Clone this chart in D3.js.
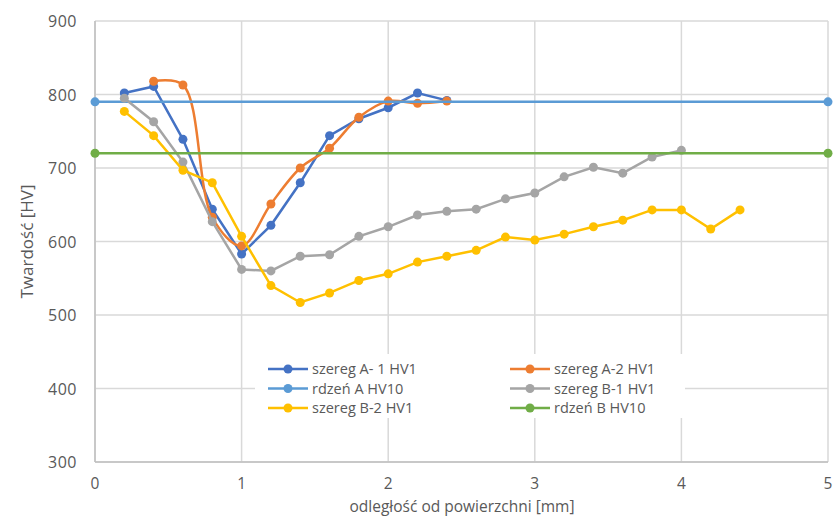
<!DOCTYPE html>
<html>
<head>
<meta charset="utf-8">
<script src="https://cdn.jsdelivr.net/npm/d3@7"></script>
<style>
  body { margin: 0; background: #fff; }
  svg text { font-family: "Open Sans", "Liberation Sans", sans-serif; }
</style>
</head>
<body>
<svg id="chart" width="838" height="517"></svg>
<script>
// values
const xA = [0.2, 0.4, 0.6, 0.8, 1.0, 1.2, 1.4, 1.6, 1.8, 2.0, 2.2, 2.4];
const szeregA1 = [802, 811, 739, 644, 583, 622, 680, 744, 767, 782, 802, 792];
const xA2 = [0.4, 0.6, 0.8, 1.0, 1.2, 1.4, 1.6, 1.8, 2.0, 2.2, 2.4];
const szeregA2 = [818, 813, 633, 594, 651, 700, 727, 769, 791, 788, 791];
const xB = [0.2, 0.4, 0.6, 0.8, 1.0, 1.2, 1.4, 1.6, 1.8, 2.0, 2.2, 2.4, 2.6, 2.8, 3.0, 3.2, 3.4, 3.6, 3.8, 4.0];
const szeregB1 = [795, 763, 708, 627, 562, 560, 580, 582, 607, 620, 636, 641, 644, 658, 666, 688, 701, 693, 715, 724];
const xB2 = [0.2, 0.4, 0.6, 0.8, 1.0, 1.2, 1.4, 1.6, 1.8, 2.0, 2.2, 2.4, 2.6, 2.8, 3.0, 3.2, 3.4, 3.6, 3.8, 4.0, 4.2, 4.4];
const szeregB2 = [777, 744, 697, 680, 607, 540, 517, 530, 547, 556, 572, 580, 588, 606, 602, 610, 620, 629, 643, 643, 617, 643];
const xCore = [0, 5];
const rdzenA = [790, 790];
const rdzenB = [720, 720];

const xTicks = [0, 1, 2, 3, 4, 5];
const yTicks = [300, 400, 500, 600, 700, 800, 900];

const series = [
  {name: 'szereg A- 1 HV1', x: xA, y: szeregA1, color: '#4472c4', curve: d3.curveLinear},
  {name: 'szereg A-2 HV1', x: xA2, y: szeregA2, color: '#ed7d31', curve: d3.curveCatmullRom},
  {name: 'rdzeń A HV10', x: xCore, y: rdzenA, color: '#5b9bd5', curve: d3.curveLinear},
  {name: 'szereg B-1 HV1', x: xB, y: szeregB1, color: '#a5a5a5', curve: d3.curveLinear},
  {name: 'szereg B-2 HV1', x: xB2, y: szeregB2, color: '#ffc000', curve: d3.curveLinear},
  {name: 'rdzeń B HV10', x: xCore, y: rdzenB, color: '#70ad47', curve: d3.curveLinear}
];

const svg = d3.select('#chart');
const margin = {left: 95, right: 10, top: 21, bottom: 55};
const width = 838, height = 517;

const x = d3.scaleLinear().domain([0, 5]).range([margin.left, width - margin.right]);
const y = d3.scaleLinear().domain([300, 900]).range([height - margin.bottom, margin.top]);

// grid
svg.append('g').selectAll('line.h')
  .data(yTicks)
  .join('line')
  .attr('x1', x(0)).attr('x2', x(5))
  .attr('y1', d => y(d)).attr('y2', d => y(d))
  .attr('stroke', '#d9d9d9').attr('stroke-width', 1.5);
svg.append('g').selectAll('line.v')
  .data(xTicks)
  .join('line')
  .attr('x1', d => x(d)).attr('x2', d => x(d))
  .attr('y1', y(300)).attr('y2', y(900))
  .attr('stroke', '#d9d9d9').attr('stroke-width', 1.5);

// axes lines
svg.append('line')
  .attr('x1', x(0)).attr('x2', x(5)).attr('y1', y(300)).attr('y2', y(300))
  .attr('stroke', '#bfbfbf').attr('stroke-width', 1.5);
svg.append('line')
  .attr('x1', x(0)).attr('x2', x(0)).attr('y1', y(300)).attr('y2', y(900))
  .attr('stroke', '#bfbfbf').attr('stroke-width', 1.5);

// tick labels
svg.append('g').selectAll('text')
  .data(yTicks)
  .join('text')
  .attr('x', x(0) - 18)
  .attr('y', d => y(d) + 6)
  .attr('text-anchor', 'end')
  .attr('font-size', 16)
  .attr('letter-spacing', 0.5)
  .attr('fill', '#595959')
  .text(d => d);
svg.append('g').selectAll('text')
  .data(xTicks)
  .join('text')
  .attr('x', d => x(d))
  .attr('y', y(300) + 27)
  .attr('text-anchor', 'middle')
  .attr('font-size', 15.5)
  .attr('fill', '#595959')
  .text(d => d);

// axis titles
svg.append('text')
  .attr('transform', `translate(33,${(y(300) + y(900)) / 2}) rotate(-90)`)
  .attr('text-anchor', 'middle')
  .attr('font-size', 17)
  .attr('fill', '#595959')
  .text('Twardość [HV]');
svg.append('text')
  .attr('x', 462)
  .attr('y', 512)
  .attr('text-anchor', 'middle')
  .attr('font-size', 15.5)
  .attr('fill', '#595959')
  .text('odległość od powierzchni  [mm]');

// series
const line = d3.line().x(d => x(d[0])).y(d => y(d[1]));
series.forEach(s => {
  const pts = s.x.map((v, i) => [v, s.y[i]]);
  svg.append('path')
    .attr('d', line.curve(s.curve)(pts))
    .attr('fill', 'none')
    .attr('stroke', s.color)
    .attr('stroke-width', 2.5);
  svg.append('g').selectAll('circle')
    .data(pts)
    .join('circle')
    .attr('cx', d => x(d[0]))
    .attr('cy', d => y(d[1]))
    .attr('r', 4.5)
    .attr('fill', s.color);
});

// legend
const legend = svg.append('g');
legend.append('rect')
  .attr('x', 255).attr('y', 354).attr('width', 430).attr('height', 64)
  .attr('fill', '#fff');
const colX = [268, 510];
series.forEach((s, i) => {
  const cx = colX[i % 2];
  const cy = 369 + Math.floor(i / 2) * 19.5;
  const g = legend.append('g');
  g.append('line')
    .attr('x1', cx).attr('x2', cx + 40).attr('y1', cy).attr('y2', cy)
    .attr('stroke', s.color).attr('stroke-width', 2.5);
  g.append('circle')
    .attr('cx', cx + 20).attr('cy', cy).attr('r', 4.5)
    .attr('fill', s.color);
  g.append('text')
    .attr('x', cx + 44).attr('y', cy + 5)
    .attr('font-size', 14.5)
    .attr('fill', '#595959')
    .text(s.name);
});
</script>
</body>
</html>
